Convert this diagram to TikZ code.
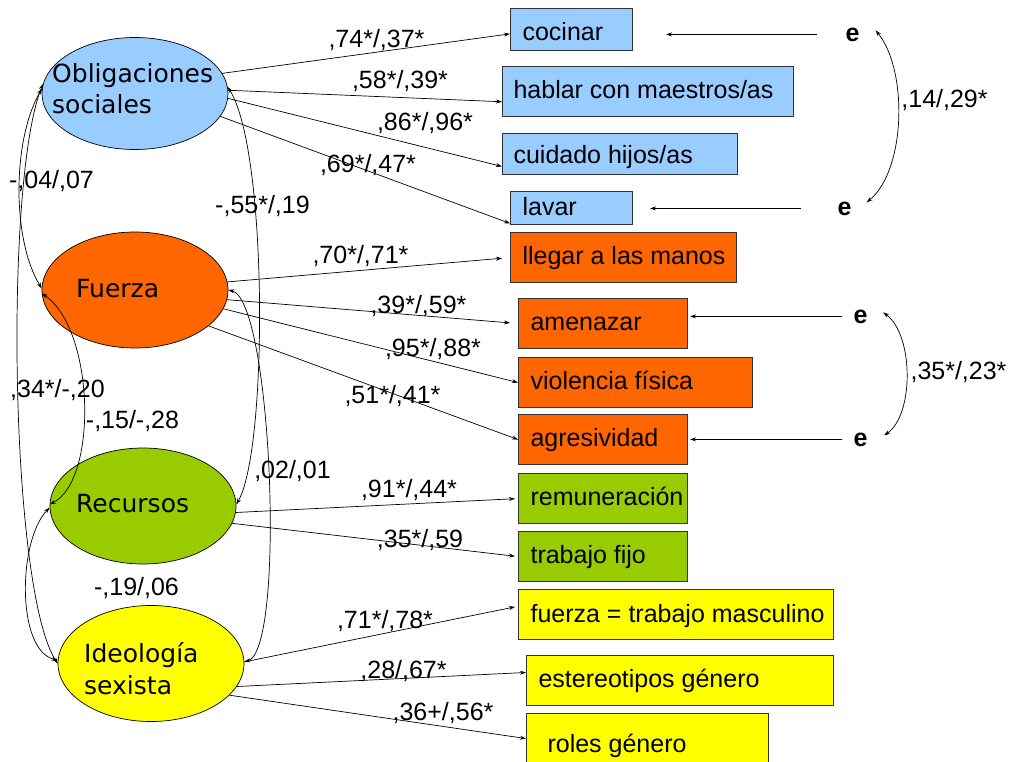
\documentclass[tikz,border=0pt]{standalone}
\usepackage{fontspec}
\setmainfont{Liberation Sans}
\newfontfamily\dvsans{DejaVu Sans}
\usetikzlibrary{arrows.meta,shapes.geometric,calc}
\definecolor{cblue}{HTML}{99CCFF}
\definecolor{corange}{HTML}{FF6600}
\definecolor{cgreen}{HTML}{99CC00}
\definecolor{cyellow}{HTML}{FFFF00}
\definecolor{bline}{HTML}{333333}
\newcommand\boxtxt[2]{\makebox[#1][l]{#2}}
\begin{document}
\begin{tikzpicture}[x=1pt,y=-1pt,
  lat/.style={ellipse, draw=black, line width=0.7pt, minimum width=186pt, minimum height=116pt, inner sep=0pt},
  lattext/.style={anchor=base west, inner sep=0pt, font=\dvsans\fontsize{25}{30}\selectfont},
  ind/.style={rectangle, draw=bline, line width=1.1pt, anchor=north west, inner xsep=12pt, inner ysep=0pt, text height=16pt, text depth=2pt, font=\fontsize{25}{30}\selectfont},
  lab/.style={anchor=base, inner sep=0pt, font=\fontsize{25}{30}\selectfont},
  err/.style={anchor=base, inner sep=0pt, font={\fontsize{25}{30}\selectfont\bfseries}},
  load/.style={-{Stealth[length=6pt,width=4pt]}, line width=0.7pt},
  cov/.style={{Stealth[length=6pt,width=4pt]}-{Stealth[length=6pt,width=4pt]}, line width=0.7pt},
]
\useasboundingbox (0,0) rectangle (1017,761);

% latent variables
\node[lat, fill=cblue, minimum height=112pt] (O) at (135,93.5) {};
\node[lat, fill=corange] (F) at (135,290) {};
\node[lat, fill=cgreen] (R) at (143,506) {};
\node[lat, fill=cyellow] (I) at (151,663.5) {};
\node[lattext] (Ot1) at (52,82) {Obligaciones};
\node[lattext] (Ot2) at (52,113) {sociales};
\node[lattext] (Ft) at (76,297) {Fuerza};
\node[lattext] (Rt) at (76,512) {Recursos};
\node[lattext] (It1) at (84,662) {Ideología};
\node[lattext] (It2) at (84,694) {sexista};

% indicators
\node[ind, fill=cblue, minimum height=42pt, text height=22pt, text depth=0pt] (cocinar) at (510,8) {\boxtxt{98pt}{cocinar}};
\node[ind, fill=cblue, minimum height=50pt, inner xsep=11pt] (hablar) at (502,66) {\boxtxt{269pt}{hablar con maestros/as}};
\node[ind, fill=cblue, minimum height=41pt, inner xsep=11pt, text height=19pt, text depth=0pt] (cuidado) at (502,133) {\boxtxt{213pt}{cuidado hijos/as}};
\node[ind, fill=cblue, minimum height=33pt] (lavar) at (510,191) {\boxtxt{98pt}{lavar}};
\node[ind, fill=corange, minimum height=50pt] (llegar) at (510,232) {\boxtxt{202pt}{llegar a las manos}};
\node[ind, fill=corange, minimum height=50pt] (amenazar) at (518,298) {\boxtxt{145pt}{amenazar}};
\node[ind, fill=corange, minimum height=50pt] (violencia) at (518,357) {\boxtxt{210pt}{violencia física}};
\node[ind, fill=corange, minimum height=50pt] (agresividad) at (518,414) {\boxtxt{145pt}{agresividad}};
\node[ind, fill=cgreen, minimum height=50pt] (remuneracion) at (518,473) {\boxtxt{145pt}{remuneración}};
\node[ind, fill=cgreen, minimum height=50pt] (trabajo) at (518,531) {\boxtxt{145pt}{trabajo fijo}};
\node[ind, fill=cyellow, minimum height=50pt, text height=18pt, text depth=2pt] (fuerzam) at (518,589) {\boxtxt{291pt}{fuerza = trabajo masculino}};
\node[ind, fill=cyellow, minimum height=50pt] (estereotipos) at (526,655) {\boxtxt{283pt}{estereotipos género}};
\node[ind, fill=cyellow, minimum height=50pt, text height=28pt, text depth=0pt] (roles) at (526,713) {\boxtxt{218pt}{\hspace*{9pt}roles género}};

% error terms
\node[err] (e1) at (852.5,41) {e};
\node[err] (e2) at (844.5,215) {e};
\node[err] (e3) at (860.5,323) {e};
\node[err] (e4) at (860.5,446) {e};

% loadings
\draw[load] (O.13) -- (cocinar.184);
\draw[load] (O.2) -- (hablar.184);
\draw[load] (O.-3) -- (cuidado.186);
\draw[load] (O.-15) -- (lavar.194);
\draw[load, shorten >=8pt] (F.5) -- (llegar.west);
\draw[load, shorten >=8pt] (F.-6) -- (amenazar.west);
\draw[load] (F.-12) -- (violencia.west);
\draw[load] (F.-26) -- (agresividad.west);
\draw[load, shorten >=3pt] (R.-4) -- (remuneracion.west);
\draw[load, shorten >=3pt] (R.-11) -- (trabajo.west);
\draw[load, shorten >=3pt] (I.1) -- (fuerzam.177);
\draw[load] (I.-15) -- (estereotipos.177);
\draw[load] (I.-22) -- (roles.west);

% error arrows
\draw[load, shorten <=28pt, shorten >=33pt] (e1.west) -- (e1.west -| cocinar.east);
\draw[load, shorten <=36pt, shorten >=17pt] (e2.west) -- (e2.west -| lavar.east);
\draw[load, shorten <=11pt, shorten >=2pt] (e3.west) -- (e3.west -| amenazar.east);
\draw[load, shorten <=11pt, shorten >=2pt] (e4.west) -- (e4.west -| agresividad.east);

% covariances
\draw[cov] (O.177) .. controls (12,140) and (12,240) .. (F.179);
\draw[cov] (O.174) .. controls (4,180) and (10,590) .. (I.180);
\draw[cov] (F.182) .. controls (95,330) and (98,480) .. (R.179);
\draw[cov] (R.181) .. controls (18,540) and (16,650) .. (I.178);
\draw[cov] (O.4) .. controls (268,150) and (268,450) .. (R.1);
\draw[cov] (F.0) .. controls (272,300) and (286,650) .. (I.1);
\draw[cov] ($(e1.east)+(16,-4)$) .. controls (908,70) and (906,170) .. ($(e2.east)+(15,-6)$);
\draw[cov] ($(e3.east)+(15.5,-4)$) .. controls (914,335) and (914,415) .. ($(e4.east)+(16.5,-4)$);

% labels
\node[lab] (l1) at (376.5,47) {,74*/,37*};
\node[lab] (l2) at (400,88) {,58*/,39*};
\node[lab] (l3) at (425,130) {,86*/,96*};
\node[lab] (l4) at (368,172) {,69*/,47*};
\node[lab] (l5) at (360.5,263) {,70*/,71*};
\node[lab] (l6) at (418.5,313) {,39*/,59*};
\node[lab] (l7) at (433,356) {,95*/,88*};
\node[lab] (l8) at (392.5,403) {,51*/,41*};
\node[lab] (l9) at (409,497) {,91*/,44*};
\node[lab] (l10) at (420,547) {,35*/,59};
\node[lab] (l11) at (385,628) {,71*/,78*};
\node[lab] (l12) at (403.5,678) {,28/,67*};
\node[lab] (l13) at (443,720) {,36+/,56*};
\node[lab] (c1) at (51.5,188) {-,04/,07};
\node[lab] (c2) at (262.5,213) {-,55*/,19};
\node[lab] (c3) at (57.5,397) {,34*/-,20};
\node[lab] (c4) at (132.5,428) {-,15/-,28};
\node[lab] (c5) at (292.5,478) {,02/,01};
\node[lab] (c6) at (136.5,595) {-,19/,06};
\node[lab] (c7) at (944.5,107) {,14/,29*};
\node[lab] (c8) at (958.5,379) {,35*/,23*};
\end{tikzpicture}
\end{document}
